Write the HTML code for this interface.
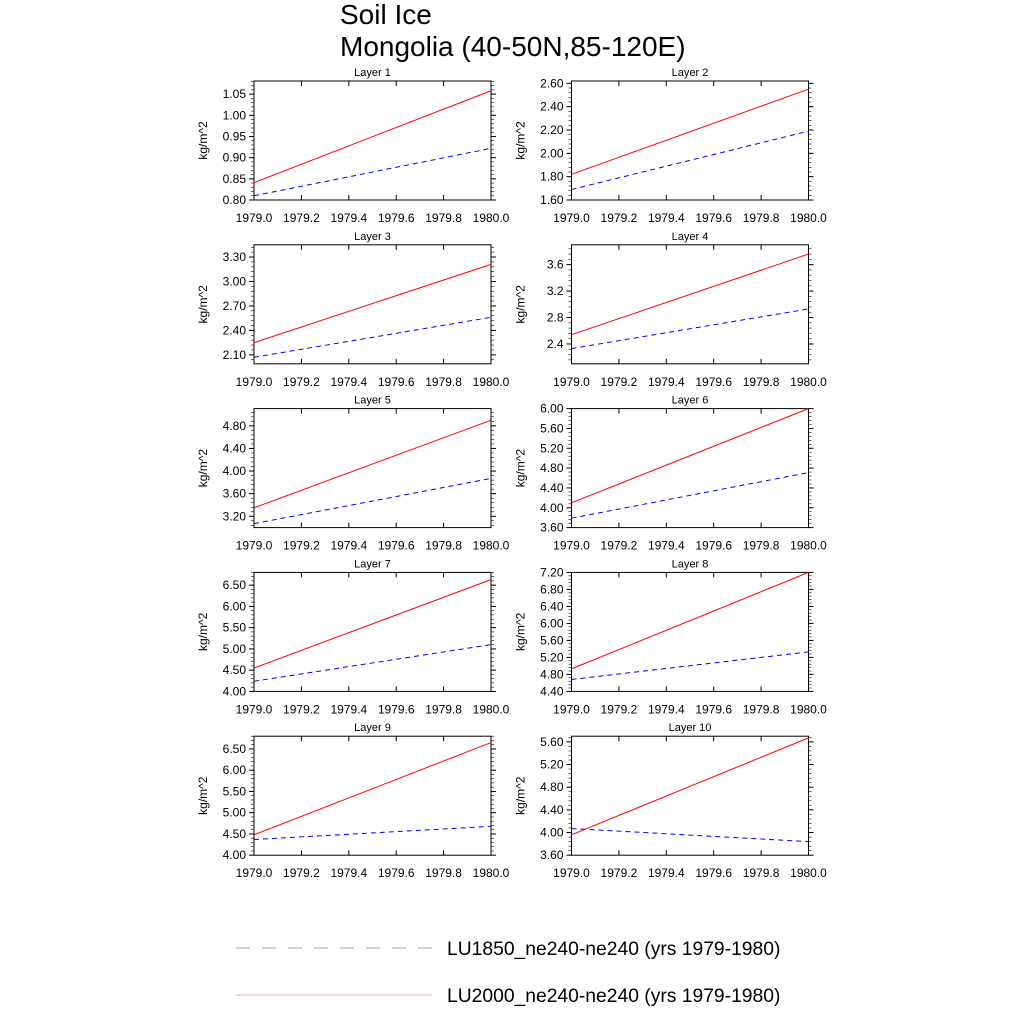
<!DOCTYPE html>
<html><head><meta charset="utf-8">
<style>
html,body{margin:0;padding:0;background:#fff;}
svg{display:block;font-family:"Liberation Sans",sans-serif;}
</style></head>
<body>
<svg id="chart" width="1024" height="1024" viewBox="0 0 1024 1024">
<text x="340" y="24" font-size="28">Soil Ice</text>
<text x="340" y="56" font-size="28">Mongolia (40-50N,85-120E)</text>
<g>
<line x1="236" y1="948" x2="432" y2="948" stroke="#888" stroke-width="0.8" stroke-dasharray="14,12"/>
<text x="447" y="955" font-size="19.3">LU1850_ne240-ne240 (yrs 1979-1980)</text>
<line x1="236" y1="995" x2="432" y2="995" stroke="#d99" stroke-width="0.8"/>
<text x="447" y="1002" font-size="19.3">LU2000_ne240-ne240 (yrs 1979-1980)</text>
</g>
</svg>
<script>
const years = [1979.0, 1980.0];
const xTickLabels = ["1979.0","1979.2","1979.4","1979.6","1979.8","1980.0"];
const layerNames = ["Layer 1","Layer 2","Layer 3","Layer 4","Layer 5","Layer 6","Layer 7","Layer 8","Layer 9","Layer 10"];
const lu2000Start = [0.841, 1.82, 2.25, 2.54, 3.35, 4.10, 4.55, 4.93, 4.48, 3.96];
const lu2000End   = [1.058, 2.55, 3.21, 3.76, 4.90, 6.00, 6.63, 7.20, 6.65, 5.67];
const lu1850Start = [0.810, 1.69, 2.07, 2.33, 3.07, 3.79, 4.24, 4.68, 4.37, 4.07];
const lu1850End   = [0.922, 2.19, 2.56, 2.93, 3.87, 4.71, 5.10, 5.33, 4.68, 3.84];
const yMins  = [0.80, 1.60, 1.99, 2.10, 3.00, 3.60, 4.00, 4.40, 4.00, 3.60];
const yMaxs  = [1.081, 2.62, 3.45, 3.90, 5.105, 6.00, 6.80, 7.20, 6.80, 5.70];
const yTickStart = [0.80, 1.60, 2.10, 2.40, 3.20, 3.60, 4.00, 4.40, 4.00, 3.60];
const yTickStep  = [0.05, 0.20, 0.30, 0.40, 0.40, 0.40, 0.50, 0.40, 0.50, 0.40];
const yTickDigits = [2, 2, 2, 1, 2, 2, 2, 2, 2, 2];

const NS = "http://www.w3.org/2000/svg";
const svg = document.getElementById("chart");
function mk(tag, attrs, parent){
  const e = document.createElementNS(NS, tag);
  for (const k in attrs) e.setAttribute(k, attrs[k]);
  parent.appendChild(e);
  return e;
}
const W = 237, H = 119;
for (let i = 0; i < 10; i++){
  const col = i % 2, row = Math.floor(i / 2);
  const x0 = col === 0 ? 254 : 571.5;
  const y0 = 81 + row * 163.8;
  const g = mk("g", {}, svg);
  
  
  const ymin = yMins[i], ymax = yMaxs[i];
  const sx = v => x0 + (v - years[0]) / (years[1] - years[0]) * W;
  const sy = v => y0 + H - (v - ymin) / (ymax - ymin) * H;
  const fr = mk("rect", {x: x0, y: y0, width: W, height: H, fill: "none", stroke: "#000", "stroke-width": 1}, g);
  
  
  const t = mk("text", {x: x0 + W / 2, y: y0 - 5, "font-size": 11, "text-anchor": "middle"}, g);
  t.textContent = layerNames[i];
  
  
  for (let k = 0; k < xTickLabels.length; k++){
    const xv = years[0] + k * 0.2;
    const px = sx(xv);
    mk("line", {x1: px, y1: y0 + H, x2: px, y2: y0 + H - 5, stroke: "#000"}, g);
    mk("line", {x1: px, y1: y0, x2: px, y2: y0 + 5, stroke: "#000"}, g);
    const lt = mk("text", {x: px, y: y0 + H + 22, "font-size": 12, "text-anchor": "middle"}, g);
    lt.textContent = xTickLabels[k];
    
    
  }
  const step = yTickStep[i];
  const minor = step / 5;
  for (let m = 0; ; m++){
    const v = yTickStart[i] - step + m * minor;
    if (v > ymax + 1e-9) break;
    if (v < ymin - 1e-9) continue;
    const py = sy(v);
    mk("line", {x1: x0 - 3, y1: py, x2: x0, y2: py, stroke: "#000", "stroke-width": 0.6}, g);
    mk("line", {x1: x0 + W, y1: py, x2: x0 + W + 3, y2: py, stroke: "#000", "stroke-width": 0.6}, g);
  }
  for (let m = 0; ; m++){
    const v = yTickStart[i] + m * step;
    if (v > ymax + 1e-9) break;
    const py = sy(v);
    mk("line", {x1: x0 - 5, y1: py, x2: x0, y2: py, stroke: "#000"}, g);
    mk("line", {x1: x0 + W, y1: py, x2: x0 + W + 5, y2: py, stroke: "#000"}, g);
    const lt = mk("text", {x: x0 - 8, y: py + 4, "font-size": 12, "text-anchor": "end"}, g);
    lt.textContent = v.toFixed(yTickDigits[i]);
    
    
  }
  const yt = mk("text", {x: 0, y: 0, "font-size": 12, "text-anchor": "middle", transform: "translate(" + (x0 - 47) + "," + (y0 + H / 2) + ") rotate(-90)"}, g);
  yt.textContent = "kg/m^2";
  
  
  const b = mk("line", {x1: sx(years[0]), y1: sy(lu1850Start[i]), x2: sx(years[1]), y2: sy(lu1850End[i]), stroke: "#00f", "stroke-width": 1, "stroke-dasharray": "5,4"}, g);
  
  
  const r = mk("line", {x1: sx(years[0]), y1: sy(lu2000Start[i]), x2: sx(years[1]), y2: sy(lu2000End[i]), stroke: "#f00", "stroke-width": 1}, g);
  
  
}
</script>
</body></html>
